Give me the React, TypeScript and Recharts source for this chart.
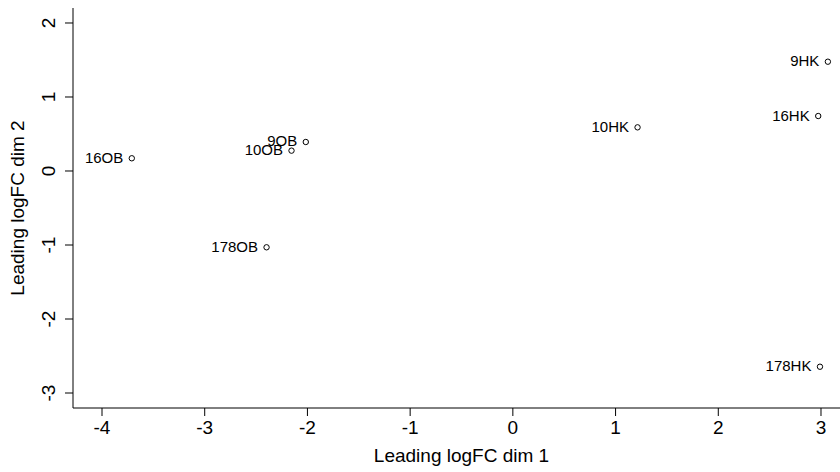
import React from "react";
import { ScatterChart, Scatter, XAxis, YAxis } from "recharts";

const sampleLabels = ["16OB", "10OB", "9OB", "178OB", "10HK", "9HK", "16HK", "178HK"];
const dim1 = [-3.71, -2.155, -2.016, -2.398, 1.214, 3.067, 2.973, 2.99];
const dim2 = [0.172, 0.275, 0.392, -1.031, 0.59, 1.477, 0.743, -2.645];
const xTicks = [-4, -3, -2, -1, 0, 1, 2, 3];
const yTicks = [-3, -2, -1, 0, 1, 2];
const xDomain = [-4.2824, 3.2824];
const yDomain = [-3.2027, 2.2027];

const data = sampleLabels.map((label, i) => ({ label, x: dim1[i], y: dim2[i] }));

const FONT = "'Liberation Sans', Arial, Helvetica, sans-serif";

const PointShape = (props: any) => {
  const { cx, cy, payload } = props;
  return (
    <g>
      <circle cx={cx} cy={cy} r={2.7} fill="none" stroke="#000" strokeWidth={1} />
      <text
        x={cx - 8.5}
        y={cy + 4.5}
        textAnchor="end"
        fontFamily={FONT}
        fontSize={15}
        fill="#000"
      >
        {payload.label}
      </text>
    </g>
  );
};

const XTick = (props: any) => {
  const { x, y, payload } = props;
  return (
    <text x={x} y={y + 16} textAnchor="middle" fontFamily={FONT} fontSize={19} fill="#000">
      {payload.value}
    </text>
  );
};

const YTick = (props: any) => {
  const { x, y, payload } = props;
  const bx = x - 8;
  return (
    <text
      x={bx}
      y={y}
      textAnchor="middle"
      transform={`rotate(-90, ${bx}, ${y})`}
      fontFamily={FONT}
      fontSize={19}
      fill="#000"
    >
      {payload.value}
    </text>
  );
};

export default function App() {
  return (
    <div
      style={{
        position: "absolute",
        left: 0,
        top: 0,
        width: 840,
        height: 472,
        overflow: "hidden",
        background: "#fff",
      }}
    >
      <ScatterChart
        width={850}
        height={472}
        margin={{ top: 8, right: 0, bottom: 0, left: 0 }}
      >
        <XAxis
          type="number"
          dataKey="x"
          domain={xDomain}
          ticks={xTicks}
          allowDataOverflow
          tickSize={8}
          tick={<XTick />}
          axisLine={{ stroke: "#000", strokeWidth: 1 }}
          tickLine={{ stroke: "#000", strokeWidth: 1 }}
          height={64}
          label={{
            value: "Leading logFC dim 1",
            position: "insideBottom",
            offset: 10,
            fontFamily: FONT,
            fontSize: 19,
            fill: "#000",
          }}
        />
        <XAxis
          xAxisId="top"
          orientation="top"
          type="number"
          domain={xDomain}
          allowDataOverflow
          tick={false}
          tickLine={false}
          axisLine={{ stroke: "#000", strokeWidth: 1 }}
          height={0}
        />
        <YAxis
          type="number"
          dataKey="y"
          domain={yDomain}
          ticks={yTicks}
          allowDataOverflow
          tickSize={8}
          tick={<YTick />}
          axisLine={{ stroke: "#000", strokeWidth: 1 }}
          tickLine={{ stroke: "#000", strokeWidth: 1 }}
          width={73}
          label={{
            value: "Leading logFC dim 2",
            angle: -90,
            position: "insideLeft",
            offset: 17,
            style: { textAnchor: "middle" },
            fontFamily: FONT,
            fontSize: 19,
            fill: "#000",
          }}
        />
        <Scatter data={data} shape={<PointShape />} isAnimationActive={false} />
      </ScatterChart>
    </div>
  );
}
